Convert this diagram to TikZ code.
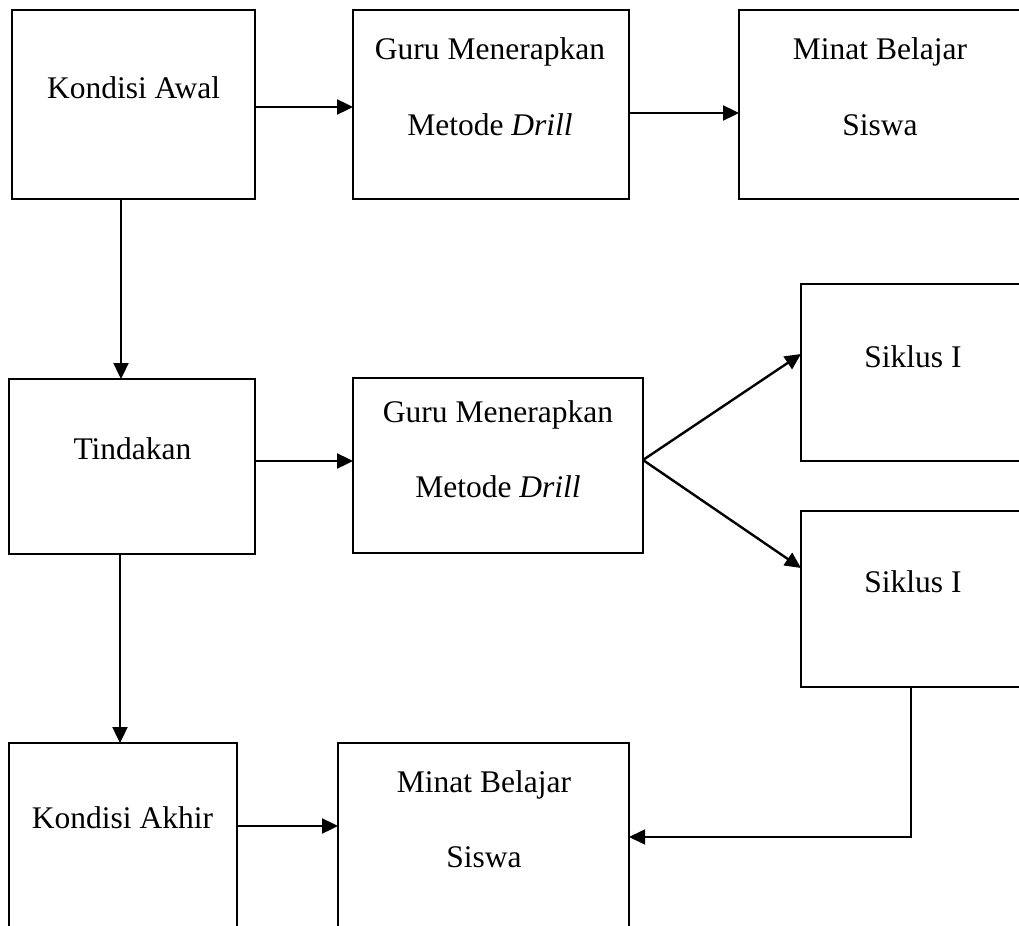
\documentclass[tikz,border=0pt]{standalone}
\usepackage{fontspec}
\setmainfont{Liberation Serif}
\usetikzlibrary{arrows.meta}
\begin{document}
\begin{tikzpicture}[x=0.5pt,y=-0.5pt,
  box/.style={draw=black, line width=1.2pt, rectangle, inner sep=0pt, outer sep=0pt},
  lbl/.style={anchor=base, inner sep=0pt, font=\fontsize{15.75}{18}\selectfont},
  arr/.style={line width=1.2pt, -{Triangle[length=8pt,width=7.5pt]}},
  thin/.style={line width=0.8pt, -{Triangle[length=8pt,width=7.5pt]}}]
\useasboundingbox (0,0) rectangle (1019,926);
\fill[white] (0,0) rectangle (1019,926);
\clip (0,0) rectangle (1019,926);
% boxes
\node[box, minimum width=121.5pt, minimum height=94.5pt] (b1) at (133.5,104.5) {};
\node[box, minimum width=138pt, minimum height=94.5pt] (b2) at (491,104.5) {};
\node[box, minimum width=141.5pt, minimum height=94.5pt] (b3) at (880.5,104.5) {};
\node[box, minimum width=123pt, minimum height=87.5pt] (b4) at (132,466.5) {};
\node[box, minimum width=145pt, minimum height=87.5pt] (b5) at (498,465.5) {};
\node[box, minimum width=112pt, minimum height=88.5pt] (b6) at (913,372.5) {};
\node[box, minimum width=112pt, minimum height=88pt] (b7) at (913,599) {};
\node[box, minimum width=114pt, minimum height=108.5pt] (b8) at (123,851.5) {};
\node[box, minimum width=145.5pt, minimum height=108.5pt] (b9) at (483.5,851.5) {};
% texts
\node[lbl] (t1) at (133.5,98) {Kondisi Awal};
\node[lbl] (t2a) at (490,60) {Guru Menerapkan};
\node[lbl] (t2b) at (490,135) {Metode \textit{Drill}};
\node[lbl] (t3a) at (880,60) {Minat Belajar};
\node[lbl] (t3b) at (880,135) {Siswa};
\node[lbl] (t4) at (132.5,459) {Tindakan};
\node[lbl] (t5a) at (498,422) {Guru Menerapkan};
\node[lbl] (t5b) at (498,497) {Metode \textit{Drill}};
\node[lbl] (t6) at (913,367) {Siklus I};
\node[lbl] (t7) at (913,592) {Siklus I};
\node[lbl] (t8) at (122.5,828) {Kondisi Akhir};
\node[lbl] (t9a) at (484,792) {Minat Belajar};
\node[lbl] (t9b) at (484,867) {Siswa};
% guide coordinates
\coordinate (h1) at (0,107);
\coordinate (h2) at (0,113);
\coordinate (h3) at (0,461);
\coordinate (h4) at (0,354);
\coordinate (h5) at (0,568);
\coordinate (h6) at (0,826);
\coordinate (h7) at (0,837);
\coordinate (v1) at (121,0);
\coordinate (v2) at (120,0);
\coordinate (v3) at (911,0);
\coordinate (fork) at (643,460);
\coordinate (corner) at (911,837);
% connectors
\draw[arr] (b1.east |- h1) -- (b2.west |- h1);
\draw[arr] (b2.east |- h2) -- (b3.west |- h2);
\draw[arr] (b1.south -| v1) -- (b4.north -| v1);
\draw[arr] (b4.east |- h3) -- (b5.west |- h3);
\draw[arr] (fork) -- (b6.west |- h4);
\draw[arr] (fork) -- (b7.west |- h5);
\draw[arr] (b4.south -| v2) -- (b8.north -| v2);
\draw[arr] (b8.east |- h6) -- (b9.west |- h6);
\draw[thin] (b7.south -| v3) -- (corner) -- (b9.east |- h7);
\end{tikzpicture}
\end{document}
